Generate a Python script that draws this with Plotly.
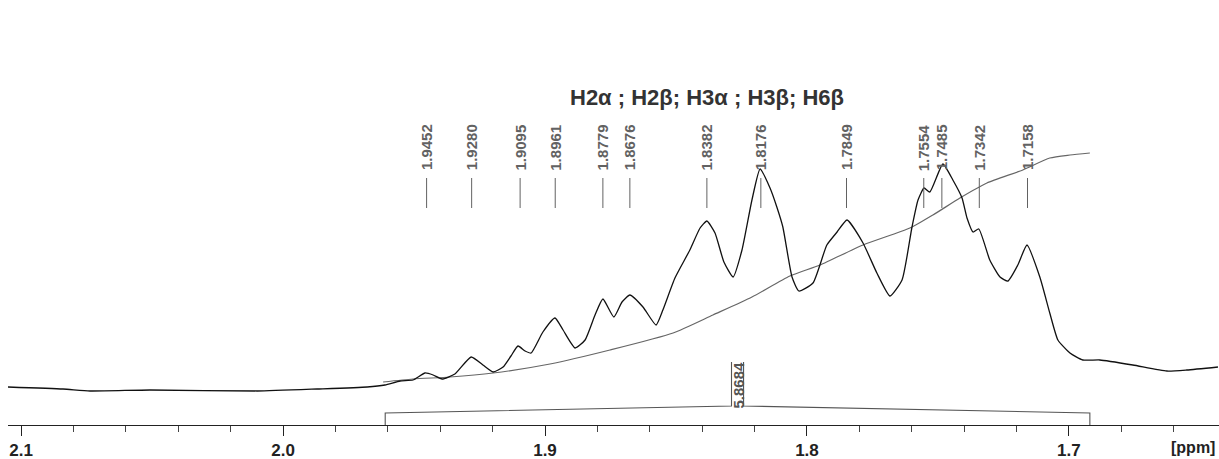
import plotly.graph_objects as go

# ---------------- data ----------------
spec_ppm = [2.1050, 2.0840, 2.0737, 2.0508, 2.0099, 1.9870, 1.9679, 1.9611, 1.9553, 1.9504,
            1.9458, 1.9427, 1.9393, 1.9344, 1.9282, 1.9237, 1.9198, 1.9160, 1.9130, 1.9103,
            1.9076, 1.9053, 1.9008, 1.8962, 1.8931, 1.8885, 1.8847, 1.8809, 1.8779, 1.8737,
            1.8706, 1.8676, 1.8626, 1.8576, 1.8550, 1.8504, 1.8447, 1.8408, 1.8382, 1.8351,
            1.8317, 1.8282, 1.8248, 1.8210, 1.8179, 1.8141, 1.8115, 1.8092, 1.8057, 1.8031,
            1.7977, 1.7924, 1.7885, 1.7847, 1.7786, 1.7733, 1.7683, 1.7637, 1.7599, 1.7576,
            1.7553, 1.7531, 1.7481, 1.7443, 1.7408, 1.7389, 1.7366, 1.7344, 1.7302, 1.7263,
            1.7233, 1.7195, 1.7160, 1.7111, 1.7073, 1.7042, 1.6996, 1.6947, 1.6882, 1.6756,
            1.6626, 1.6550, 1.6431]
spec_int = [2, 0, -2, -1, -2, 0, 2, 4, 8, 9,
            16, 14, 10, 15, 32, 24, 17, 22, 33, 43,
            38, 36, 57, 71, 59, 41, 49, 74, 90, 72,
            87, 94, 82, 64, 79, 111, 139, 161, 168, 156,
            127, 112, 139, 189, 220, 201, 182, 162, 112, 98,
            106, 144, 157, 169, 146, 116, 93, 109, 162, 189,
            201, 197, 225, 209, 191, 171, 157, 160, 129, 112,
            108, 124, 144, 112, 76, 49, 36, 29, 29, 24,
            18, 19, 22]

integ_ppm = [1.9618, 1.9504, 1.9363, 1.9198, 1.8981, 1.8752, 1.8511, 1.8359, 1.8210, 1.8065,
             1.7950, 1.7786, 1.7607, 1.7519, 1.7416, 1.7313, 1.7176, 1.7073, 1.6996, 1.6920]
integ_val = [7, 10, 12, 16, 25, 39, 56, 74, 92, 113,
             124, 144, 161, 174, 191, 206, 219, 231, 234, 236]

peak_labels = ["1.9452", "1.9280", "1.9095", "1.8961", "1.8779", "1.8676", "1.8382",
               "1.8176", "1.7849", "1.7554", "1.7485", "1.7342", "1.7158"]

integral_region = [1.961, 1.692]
integral_label = "5.8684"
title_text = "H2α ; H2β; H3α ; H3β; H6β"
tick_values = [2.1, 2.0, 1.9, 1.8, 1.7]
tick_text = ["2.1", "2.0", "1.9", "1.8", "1.7"]

FONT = "Liberation Sans, Arial, sans-serif"
GRAY = "#626262"

fig = go.Figure()

# integral curve
fig.add_trace(go.Scatter(x=integ_ppm, y=integ_val, mode="lines",
                         line=dict(color="#666666", width=1.2, shape="spline", smoothing=0.6),
                         hoverinfo="skip", showlegend=False))
# spectrum
fig.add_trace(go.Scatter(x=spec_ppm, y=spec_int, mode="lines",
                         line=dict(color="#111111", width=1.3, shape="spline", smoothing=0.5),
                         hoverinfo="skip", showlegend=False))

# integral bracket
x0, x1 = integral_region
xc = (x0 + x1) / 2
half_box = 0.0023
base, end_h, mid_h, box_top = -36, -24, -17, 27
fig.add_trace(go.Scatter(
    x=[x0, x0, xc + half_box, xc + half_box, None, xc - half_box, xc - half_box, x1, x1],
    y=[base, end_h, mid_h, box_top, None, box_top, mid_h, end_h, base],
    mode="lines", line=dict(color="#555555", width=1.1),
    hoverinfo="skip", showlegend=False))

annotations = []
shapes = []
for lab in peak_labels:
    p = float(lab)
    shapes.append(dict(type="line", xref="x", yref="y", x0=p, x1=p, y0=181, y1=211,
                       line=dict(color=GRAY, width=1)))
    annotations.append(dict(x=p, y=241.5, xref="x", yref="y", text="<b>" + lab + "</b>",
                            textangle=-90, showarrow=False, xanchor="center", yanchor="middle",
                            font=dict(family=FONT, size=15, color=GRAY)))

annotations.append(dict(x=xc, y=4, xref="x", yref="y", text="<b>" + integral_label + "</b>",
                        textangle=-90, showarrow=False, xanchor="center", yanchor="middle",
                        font=dict(family=FONT, size=15, color="#555555")))

annotations.append(dict(x=0.577, y=292, xref="paper", yref="y", text="<b>" + title_text + "</b>",
                        showarrow=False, xanchor="center", yanchor="middle",
                        font=dict(family=FONT, size=22, color="#333333")))

annotations.append(dict(x=0.998, y=-0.052, xref="paper", yref="paper", text="<b>[ppm]</b>",
                        showarrow=False, xanchor="right", yanchor="middle",
                        font=dict(family=FONT, size=16, color="#222222")))

fig.update_layout(
    width=1219, height=459,
    margin=dict(l=8, r=0, t=0, b=34),
    paper_bgcolor="white", plot_bgcolor="white",
    showlegend=False,
    shapes=shapes, annotations=annotations,
    xaxis=dict(range=[2.105, 1.6427], showgrid=False, zeroline=False,
               showline=True, linecolor="#222222", linewidth=1,
               ticks="outside", ticklen=10, tickcolor="#222222", tickwidth=1,
               tickvals=tick_values, ticktext=["<b>%s</b>" % t for t in tick_text],
               tickfont=dict(family=FONT, size=17, color="#222222"),
               minor=dict(dtick=0.02, tick0=1.7, ticks="outside", ticklen=6,
                          tickcolor="#444444", showgrid=False)),
    yaxis=dict(range=[-36, 389], visible=False, showgrid=False, zeroline=False),
)

fig.write_html("out.html")
